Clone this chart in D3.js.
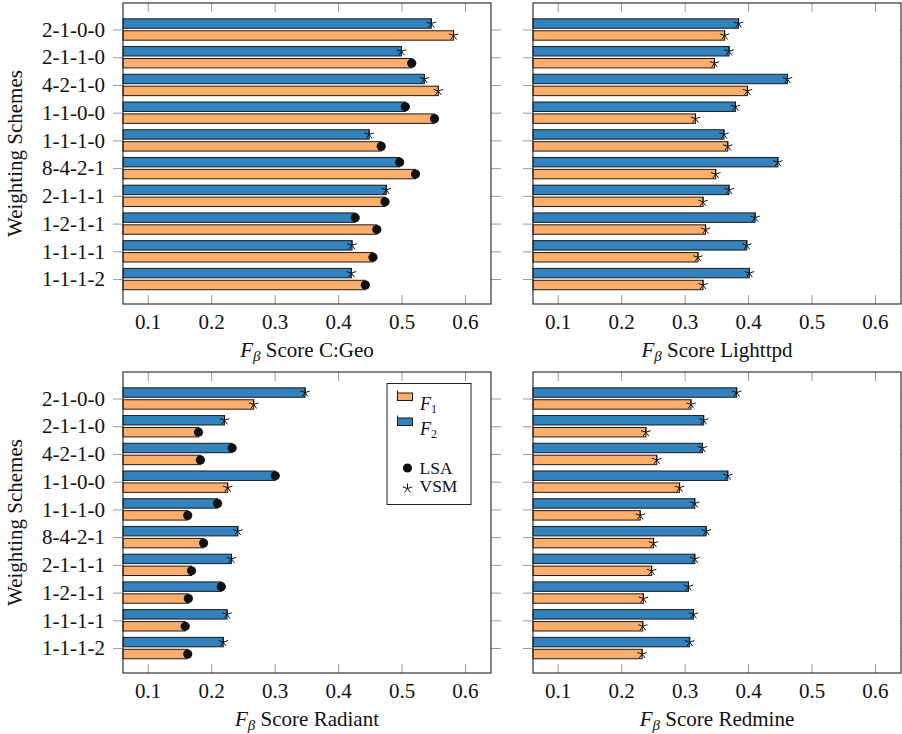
<!DOCTYPE html>
<html>
<head>
<meta charset="utf-8">
<script src="https://cdn.jsdelivr.net/npm/d3@7"></script>
<style>
  body { margin: 0; background: #fff; }
</style>
</head>
<body>
<div id="chart"></div>
<script>
// weighting schemes, top to bottom
let schemes = ["2-1-0-0", "2-1-1-0", "4-2-1-0", "1-1-0-0", "1-1-1-0",
               "8-4-2-1", "2-1-1-1", "1-2-1-1", "1-1-1-1", "1-1-1-2"];
let xTickValues = [0.1, 0.2, 0.3, 0.4, 0.5, 0.6];

// C:Geo
let geoF2 = [0.547, 0.500, 0.536, 0.506, 0.449, 0.497, 0.476, 0.427, 0.422, 0.421];
let geoF1 = [0.582, 0.516, 0.558, 0.552, 0.468, 0.522, 0.474, 0.461, 0.455, 0.443];
let geoF2Mark = ["VSM", "VSM", "VSM", "LSA", "VSM", "LSA", "VSM", "LSA", "VSM", "VSM"];
let geoF1Mark = ["VSM", "LSA", "VSM", "LSA", "LSA", "LSA", "LSA", "LSA", "LSA", "LSA"];

// Lighttpd
let lighttpdF2 = [0.385, 0.370, 0.462, 0.380, 0.362, 0.447, 0.370, 0.411, 0.398, 0.402];
let lighttpdF1 = [0.363, 0.347, 0.399, 0.317, 0.368, 0.349, 0.329, 0.333, 0.321, 0.329];
let lighttpdF2Mark = ["VSM", "VSM", "VSM", "VSM", "VSM", "VSM", "VSM", "VSM", "VSM", "VSM"];
let lighttpdF1Mark = ["VSM", "VSM", "VSM", "VSM", "VSM", "VSM", "VSM", "VSM", "VSM", "VSM"];

// Radiant
let radiantF2 = [0.348, 0.221, 0.233, 0.301, 0.210, 0.242, 0.232, 0.216, 0.225, 0.219];
let radiantF1 = [0.267, 0.180, 0.183, 0.226, 0.163, 0.188, 0.169, 0.164, 0.159, 0.163];
let radiantF2Mark = ["VSM", "VSM", "LSA", "LSA", "LSA", "VSM", "VSM", "LSA", "VSM", "VSM"];
let radiantF1Mark = ["VSM", "LSA", "LSA", "VSM", "LSA", "LSA", "LSA", "LSA", "LSA", "LSA"];

// Redmine
let redmineF2 = [0.382, 0.330, 0.328, 0.368, 0.316, 0.334, 0.316, 0.306, 0.314, 0.308];
let redmineF1 = [0.310, 0.239, 0.256, 0.292, 0.230, 0.251, 0.248, 0.235, 0.234, 0.233];
let redmineF2Mark = ["VSM", "VSM", "VSM", "VSM", "VSM", "VSM", "VSM", "VSM", "VSM", "VSM"];
let redmineF1Mark = ["VSM", "VSM", "VSM", "VSM", "VSM", "VSM", "VSM", "VSM", "VSM", "VSM"];

let f1Color = "#fdae6b";
let f2Color = "#3182bd";
let serif = "'Liberation Serif', 'DejaVu Serif', 'Times New Roman', serif";

let panels = [
  { name: "C:Geo",    f1: geoF1, f2: geoF2, m1: geoF1Mark, m2: geoF2Mark, left: 123, top: 3, yLabels: true },
  { name: "Lighttpd", f1: lighttpdF1, f2: lighttpdF2, m1: lighttpdF1Mark, m2: lighttpdF2Mark, left: 533, top: 3, yLabels: false },
  { name: "Radiant",  f1: radiantF1, f2: radiantF2, m1: radiantF1Mark, m2: radiantF2Mark, left: 123, top: 372, yLabels: true, legend: true },
  { name: "Redmine",  f1: redmineF1, f2: redmineF2, m1: redmineF1Mark, m2: redmineF2Mark, left: 533, top: 372, yLabels: false }
];

let width = 902, height = 734;
let plotW = 368, plotH = 301;

let svg = d3.select("#chart").append("svg")
  .attr("width", width)
  .attr("height", height)
  .style("font-family", serif);

let starPath = function(r) {
  let p = "";
  for (let k = 0; k < 5; k++) {
    let a = -Math.PI / 2 + k * 2 * Math.PI / 5;
    p += "M0,0L" + (r * Math.cos(a)).toFixed(2) + "," + (r * Math.sin(a)).toFixed(2);
  }
  return p;
};

function drawMark(g, type, cx, cy) {
  if (type === "LSA") {
    g.append("circle").attr("cx", cx).attr("cy", cy).attr("r", 4.6).attr("fill", "#111");
  } else {
    g.append("path").attr("d", starPath(5))
      .attr("transform", "translate(" + cx + "," + cy + ")")
      .attr("fill", "none").attr("stroke", "#111").attr("stroke-width", 1);
  }
}

function txt(sel, size) {
  return sel.style("font-family", serif).style("font-size", size + "px").attr("fill", "#111");
}

panels.forEach(function(p) {
  let g = svg.append("g").attr("transform", "translate(" + p.left + "," + p.top + ")");

  // scales
  let x = d3.scaleLinear().domain([0.061, 0.641]).range([0, plotW]);
  let y = d3.scaleLinear().domain([-0.956, 9.9]).range([0, plotH]);
  let step = y(1) - y(0);
  let barH = step * 0.34;
  let gap = step * 0.045;

  // x ticks inside top and bottom
  let xb = g.append("g").attr("transform", "translate(0," + plotH + ")")
    .call(d3.axisBottom(x).tickValues(xTickValues).tickSize(-9).tickFormat(d3.format(".1f")));
  xb.attr("font-family", null).attr("font-size", null);
  xb.select(".domain").remove();
  xb.selectAll("line").attr("stroke", "#999");
  txt(xb.selectAll("text").attr("y", 24.5).attr("dy", null), 21);

  let xt = g.append("g")
    .call(d3.axisTop(x).tickValues(xTickValues).tickSize(-9).tickFormat(""));
  xt.select(".domain").remove();
  xt.selectAll("line").attr("stroke", "#999");

  // y ticks outside left and right
  let yl = g.append("g")
    .call(d3.axisLeft(y).tickValues(d3.range(schemes.length)).tickSize(10).tickPadding(8)
      .tickFormat(function(i) { return p.yLabels ? schemes[i] : ""; }));
  yl.attr("font-family", null).attr("font-size", null);
  yl.select(".domain").remove();
  yl.selectAll("line").attr("stroke", "#999");
  txt(yl.selectAll("text").attr("dy", "0.32em"), 21);

  let yr = g.append("g").attr("transform", "translate(" + plotW + ",0)")
    .call(d3.axisRight(y).tickValues(d3.range(schemes.length)).tickSize(10).tickFormat(""));
  yr.select(".domain").remove();
  yr.selectAll("line").attr("stroke", "#999");

  // bars: F2 on top, F1 below
  let bars = g.append("g");
  bars.selectAll("rect.f2").data(p.f2).enter().append("rect")
    .attr("class", "f2")
    .attr("x", 0)
    .attr("y", function(d, i) { return y(i) - gap - barH; })
    .attr("width", function(d) { return x(d); })
    .attr("height", barH)
    .attr("fill", f2Color).attr("stroke", "#1a1a1a").attr("stroke-width", 1);
  bars.selectAll("rect.f1").data(p.f1).enter().append("rect")
    .attr("class", "f1")
    .attr("x", 0)
    .attr("y", function(d, i) { return y(i) + gap; })
    .attr("width", function(d) { return x(d); })
    .attr("height", barH)
    .attr("fill", f1Color).attr("stroke", "#1a1a1a").attr("stroke-width", 1);

  // marks at the bar ends
  let marks = g.append("g");
  p.f2.forEach(function(d, i) { drawMark(marks, p.m2[i], x(d), y(i) - gap - barH / 2); });
  p.f1.forEach(function(d, i) { drawMark(marks, p.m1[i], x(d), y(i) + gap + barH / 2); });

  // frame
  g.append("rect").attr("x", 0).attr("y", 0).attr("width", plotW).attr("height", plotH)
    .attr("fill", "none").attr("stroke", "#222").attr("stroke-width", 1.1);

  // x axis title
  let t = txt(g.append("text").attr("x", plotW / 2).attr("y", plotH + 52.5)
    .attr("text-anchor", "middle"), 21);
  t.append("tspan").style("font-style", "italic").text("F");
  t.append("tspan").attr("dy", 4).style("font-style", "italic").style("font-size", "15px").text("β");
  t.append("tspan").attr("dy", -4).text(" Score " + p.name);

  if (p.yLabels) {
    txt(g.append("text")
      .attr("transform", "translate(" + (-101) + "," + (plotH / 2) + ") rotate(-90)")
      .attr("text-anchor", "middle"), 21)
      .text("Weighting Schemes");
  }

  if (p.legend) {
    let lg = g.append("g").attr("transform", "translate(264,11.5)");
    lg.append("rect").attr("width", 84).attr("height", 121)
      .attr("fill", "#fff").attr("stroke", "#222").attr("stroke-width", 1);
    [["1", f1Color, 10], ["2", f2Color, 35]].forEach(function(e) {
      lg.append("rect").attr("x", 10.5).attr("y", e[2] - 0.5).attr("width", 15).attr("height", 7.5)
        .attr("fill", e[1]).attr("stroke", "#1a1a1a").attr("stroke-width", 1);
      lg.append("line").attr("x1", 10.5).attr("x2", 10.5).attr("y1", e[2] - 3).attr("y2", e[2])
        .attr("stroke", "#1a1a1a");
      let lt = txt(lg.append("text").attr("x", 33).attr("y", e[2] + 16.5), 18);
      lt.append("tspan").style("font-style", "italic").text("F");
      lt.append("tspan").attr("dy", 3).style("font-size", "12px").text(e[0]);
    });
    drawMark(lg, "LSA", 20.5, 84.5);
    txt(lg.append("text").attr("x", 32.5).attr("y", 90), 17.5).text("LSA");
    drawMark(lg, "VSM", 20.5, 105);
    txt(lg.append("text").attr("x", 32.5).attr("y", 108.7), 17.5).text("VSM");
  }
});
</script>
</body>
</html>
